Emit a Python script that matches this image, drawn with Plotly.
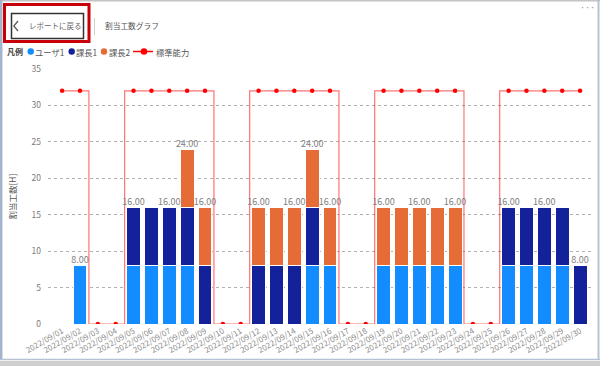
import plotly.graph_objects as go

# ---------------- data ----------------
dates = [f"2022/09/{d:02d}" for d in range(1, 31)]
user1 = [0, 8, 0, 0, 8, 8, 8, 8, 0, 0, 0, 0, 0, 0, 8, 8, 0, 0, 8, 8, 8, 8, 8, 0, 0, 8, 8, 8, 8, 0]
kacho1 = [0, 0, 0, 0, 8, 8, 8, 8, 8, 0, 0, 8, 8, 8, 8, 0, 0, 0, 0, 0, 0, 0, 0, 0, 0, 8, 8, 8, 8, 8]
kacho2 = [0, 0, 0, 0, 0, 0, 0, 8, 8, 0, 0, 8, 8, 8, 8, 8, 0, 0, 8, 8, 8, 8, 8, 0, 0, 0, 0, 0, 0, 0]
standard = [32, 32, 0, 0, 32, 32, 32, 32, 32, 0, 0, 32, 32, 32, 32, 32, 0, 0, 32, 32, 32, 32, 32, 0, 0, 32, 32, 32, 32, 32]
# totals labels that remain visible (overlapping ones hidden in the original)
label_shown = [0, 1, 0, 0, 1, 0, 1, 1, 1, 0, 0, 1, 0, 1, 1, 1, 0, 0, 1, 0, 1, 0, 1, 0, 0, 1, 0, 1, 0, 1]

series_names = ["ユーザ1", "課長1", "課長2"]
series_colors = ["#128cfe", "#13219b", "#e66c37"]
std_name = "標準能力"
y_ticks = [0, 5, 10, 15, 20, 25, 30, 35]

totals = [a + b + c for a, b, c in zip(user1, kacho1, kacho2)]
label_text = [f"{t:.2f}" if s and t > 0 else "" for t, s in zip(totals, label_shown)]

# ---------------- geometry helpers ----------------
W, H = 600, 366
L, R, T, B = 48, 6, 69, 42
PW, PH = W - L - R, H - T - B


def fx(px):
    return (px - L) / PW


def fy(py):
    return (H - B - py) / PH


FONT = "Noto Sans CJK JP, Noto Sans, sans-serif"

fig = go.Figure()
for name, vals, col in zip(series_names, [user1, kacho1, kacho2], series_colors):
    fig.add_trace(go.Bar(
        x=dates, y=vals, name=name,
        marker=dict(color=col, line=dict(color="white", width=1)),
        showlegend=False, hoverinfo="x+y+name",
    ))

fig.add_trace(go.Scatter(
    x=dates, y=standard, name=std_name, mode="lines+markers",
    line=dict(color="rgba(255,0,0,0.55)", width=1.2, shape="hvh"),
    marker=dict(color="#ff0000", size=4.5),
    showlegend=False,
))

fig.add_trace(go.Scatter(
    x=dates, y=totals, mode="text", text=label_text,
    textposition="top center",
    textfont=dict(size=9, color="#808080", family=FONT),
    showlegend=False, hoverinfo="skip",
))

shapes = []
annotations = []

# frame of the screenshot
shapes.append(dict(type="line", xref="paper", yref="paper", x0=fx(0), x1=fx(600), y0=fy(0.7), y1=fy(0.7),
                   line=dict(color="#c4c4c4", width=1.5)))
shapes.append(dict(type="line", xref="paper", yref="paper", x0=fx(1.2), x1=fx(1.2), y0=fy(0), y1=fy(360),
                   line=dict(color="#a3b5cc", width=2.5)))
shapes.append(dict(type="line", xref="paper", yref="paper", x0=fx(598.5), x1=fx(598.5), y0=fy(0), y1=fy(360),
                   line=dict(color="#b7c3d3", width=2)))
shapes.append(dict(type="line", xref="paper", yref="paper", x0=fx(0), x1=fx(600), y0=fy(359.5), y1=fy(359.5),
                   line=dict(color="#b4c2d6", width=1.5)))
shapes.append(dict(type="rect", xref="paper", yref="paper", x0=fx(0), x1=fx(600), y0=fy(361), y1=fy(366),
                   line=dict(width=0), fillcolor="#cfcfcf"))

# back button
shapes.append(dict(type="rect", xref="paper", yref="paper", x0=fx(4.5), x1=fx(89), y0=fy(4.5), y1=fy(41.5),
                   line=dict(color="#c8000a", width=3)))
shapes.append(dict(type="rect", xref="paper", yref="paper", x0=fx(11.5), x1=fx(83.5), y0=fy(13.5), y1=fy(38.5),
                   line=dict(color="#333333", width=1.5)))
shapes.append(dict(type="path", xref="paper", yref="paper",
                   path=f"M {fx(18)},{fy(21)} L {fx(13.8)},{fy(26)} L {fx(18)},{fy(31)}",
                   line=dict(color="#555555", width=1.2)))
annotations.append(dict(text="レポートに戻る", xref="paper", yref="paper", x=fx(26.5), y=fy(26),
                        xanchor="left", yanchor="middle", showarrow=False,
                        font=dict(size=7.5, color="#666666", family=FONT)))
# separator & title
shapes.append(dict(type="line", xref="paper", yref="paper", x0=fx(94.5), x1=fx(94.5), y0=fy(18), y1=fy(35),
                   line=dict(color="#d0d0d0", width=1)))
annotations.append(dict(text="割当工数グラフ", xref="paper", yref="paper", x=fx(102.5), y=fy(25.5),
                        xanchor="left", yanchor="middle", showarrow=False,
                        font=dict(size=7.7, color="#555555", family=FONT)))
# more "..." icon
annotations.append(dict(text="···", xref="paper", yref="paper", x=fx(587), y=fy(8),
                        xanchor="center", yanchor="middle", showarrow=False,
                        font=dict(size=9, color="#888888", family=FONT)))

# custom legend
LY = 51.5
annotations.append(dict(text="<b>凡例</b>", xref="paper", yref="paper", x=fx(5), y=fy(LY),
                        xanchor="left", yanchor="middle", showarrow=False,
                        font=dict(size=8, color="#444444", family=FONT)))
leg_x = [30.7, 71.7, 104]
for cx, name, col in zip(leg_x, series_names, series_colors):
    shapes.append(dict(type="circle", xref="paper", yref="paper", x0=fx(cx - 3.2), x1=fx(cx + 3.2),
                       y0=fy(LY - 3.2), y1=fy(LY + 3.2), line=dict(width=0), fillcolor=col))
    annotations.append(dict(text=name, xref="paper", yref="paper", x=fx(cx + 2.5), y=fy(LY),
                            xanchor="left", yanchor="middle", showarrow=False,
                            font=dict(size=8.3, color="#555555", family=FONT)))
shapes.append(dict(type="line", xref="paper", yref="paper", x0=fx(133), x1=fx(153), y0=fy(LY), y1=fy(LY),
                   line=dict(color="#ff0000", width=1.5)))
shapes.append(dict(type="circle", xref="paper", yref="paper", x0=fx(144 - 3.3), x1=fx(144 + 3.3),
                   y0=fy(LY - 3.3), y1=fy(LY + 3.3), line=dict(width=0), fillcolor="#ff0000"))
annotations.append(dict(text=std_name, xref="paper", yref="paper", x=fx(154), y=fy(LY),
                        xanchor="left", yanchor="middle", showarrow=False,
                        font=dict(size=8.3, color="#555555", family=FONT)))

# y axis title
annotations.append(dict(text="割当工数[H]", xref="paper", yref="paper", x=fx(11.5), y=fy(197),
                        xanchor="center", yanchor="middle", showarrow=False, textangle=-90,
                        font=dict(size=8.5, color="#555555", family=FONT)))

fig.update_layout(
    width=W, height=H,
    margin=dict(l=L, r=R, t=T, b=B, pad=0),
    paper_bgcolor="white", plot_bgcolor="white",
    barmode="stack", bargap=0.22,
    font=dict(family=FONT, color="#777777"),
    shapes=shapes, annotations=annotations,
    showlegend=False,
)
fig.update_xaxes(
    type="category", range=[-0.79, 29.78],
    showgrid=False, showline=False, zeroline=False,
    tickangle=-30, tickfont=dict(size=8, color="#8a8a8a", family=FONT),
    ticks="", fixedrange=True,
)
fig.update_yaxes(
    range=[0, 35], tickvals=y_ticks,
    showgrid=True, gridcolor="#b0b0b0", griddash="3px,3px", gridwidth=1,
    zeroline=False, showline=False,
    tickfont=dict(size=8.5, color="#7a7a7a", family=FONT),
    ticklabelstandoff=6, fixedrange=True,
)

fig.write_html(
    "out.html",
    config={"displayModeBar": False},
    post_script="document.body.style.margin='0';document.body.style.overflow='hidden';window.dispatchEvent(new Event('resize'));",
)
